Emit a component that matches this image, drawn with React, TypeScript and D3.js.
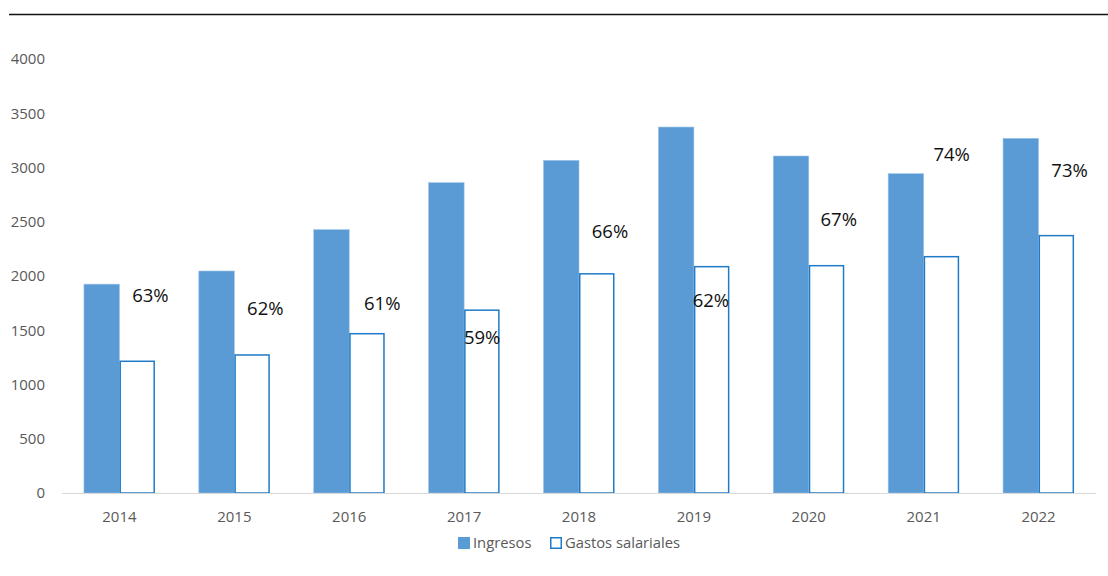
import React from "react";
import * as d3 from "d3";

const years = ["2014", "2015", "2016", "2017", "2018", "2019", "2020", "2021", "2022"];
const ingresos = [1925, 2046, 2427, 2860, 3066, 3373, 3106, 2943, 3269];
const gastos = [1214, 1272, 1468, 1685, 2020, 2086, 2095, 2178, 2372];
const ratioLabels = ["63%", "62%", "61%", "59%", "66%", "62%", "67%", "74%", "73%"];
// vertical anchor of each ratio label, in value units of the left axis
const ratioLabelValue = [1816, 1696, 1742, 1429, 2406, 1770, 2516, 3124, 2968];
const yTicks = [0, 500, 1000, 1500, 2000, 2500, 3000, 3500, 4000];
const seriesNames = ["Ingresos", "Gastos salariales"];

const W = 1108;
const H = 576;
const FONT = "'Open Sans', 'Noto Sans', sans-serif";

export default function App() {
  const x0 = d3.scaleBand<string>().domain(years).range([62, 1096]).paddingInner(0).paddingOuter(0);
  const barW = 35.5;
  const y = d3.scaleLinear().domain([0, 4000]).range([493, 59]);
  const labelDx = [31, 31, 33, 18, 31, 17, 30, 28, 31];

  return (
    <svg width={W} height={H} style={{ position: "absolute", left: 0, top: 0, background: "#fff" }}>
      <line x1={9} x2={1108} y1={14.5} y2={14.5} stroke="#111" strokeWidth={1.5} />
      {yTicks.map((t) => (
        <text key={t} x={45} y={y(t)} dy="0.35em" textAnchor="end" fontFamily={FONT} fontSize={15} fill="#595959">
          {t}
        </text>
      ))}
      {years.map((yr, i) => {
        const c = (x0(yr) as number) + x0.bandwidth() / 2;
        return (
          <g key={yr}>
            <rect x={c - barW} y={y(ingresos[i])} width={barW} height={y(0) - y(ingresos[i])} fill="#5B9BD5" stroke="#9DC3E6" strokeWidth={0.6} />
            <rect x={c + 0.75} y={y(gastos[i])} width={barW - 1.5} height={y(0) - y(gastos[i])} fill="#fff" stroke="#1F7BC8" strokeWidth={1.5} />
            <text x={c} y={517} dy="0.35em" textAnchor="middle" fontFamily={FONT} fontSize={15} fill="#595959">
              {yr}
            </text>
            <text x={c + labelDx[i]} y={y(ratioLabelValue[i])} dy="0.35em" textAnchor="middle" fontFamily={FONT} fontSize={18.5} fill="#111">
              {ratioLabels[i]}
            </text>
          </g>
        );
      })}
      <line x1={62} x2={1096} y1={493.5} y2={493.5} stroke="#D9D9D9" strokeWidth={1.2} />
      <g>
        <rect x={458} y={537} width={12} height={12} fill="#5B9BD5" />
        <text x={473} y={543} dy="0.35em" fontFamily={FONT} fontSize={14.75} fill="#595959">{seriesNames[0]}</text>
        <rect x={550.75} y={537.75} width={10.5} height={10.5} fill="#fff" stroke="#1F7BC8" strokeWidth={1.5} />
        <text x={565} y={543} dy="0.35em" fontFamily={FONT} fontSize={14.75} fill="#595959">{seriesNames[1]}</text>
      </g>
    </svg>
  );
}
